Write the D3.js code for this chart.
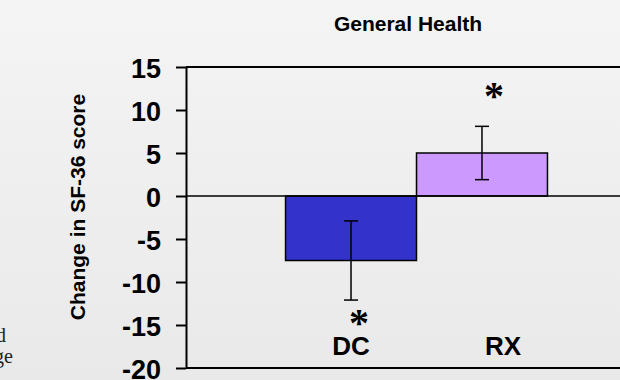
<!DOCTYPE html>
<html>
<head>
<meta charset="utf-8">
<script src="https://cdn.jsdelivr.net/npm/d3@7/dist/d3.min.js"></script>
<style>
  html, body { margin: 0; padding: 0; }
  body { width: 620px; height: 380px; overflow: hidden; }
  svg { display: block; }
</style>
</head>
<body>
<svg id="chart" width="620" height="380"></svg>
<script>
// SF-36 General Health: mean change by group, with error bars
const categories = ["DC", "RX"];
const meanChange = [-7.5, 5.0];
const errorSize = [4.6, 3.1];
const significant = [true, true];
const barColors = ["#3333cc", "#cc99ff"];
const yTicks = [15, 10, 5, 0, -5, -10, -15, -20];
const chartTitle = "General Health";
const yTitle = "Change in SF-36 score";
const sideNotes = ["d", "ge"];

const svg = d3.select("#chart");
const W = 620, H = 380;

// soft grey backdrop
const defs = svg.append("defs");
const grad = defs.append("linearGradient")
  .attr("id", "bg").attr("x1", 0).attr("y1", 0).attr("x2", 0).attr("y2", 1);
grad.append("stop").attr("offset", "0%").attr("stop-color", "#f4f4f4");
grad.append("stop").attr("offset", "100%").attr("stop-color", "#e9e9e9");
svg.append("rect").attr("width", W).attr("height", H).attr("fill", "url(#bg)");

// plot frame
const plot = { left: 186, right: 647, top: 67, bottom: 368 };

const y = d3.scaleLinear()
  .domain([d3.min(yTicks), d3.max(yTicks)])
  .range([plot.bottom, plot.top]);

const x = d3.scaleBand()
  .domain(categories)
  .range([plot.left, plot.right])
  .paddingInner(0)
  .paddingOuter(0.76);

// fragments of neighbouring slide text at the left edge
svg.append("g").selectAll("text")
  .data(sideNotes)
  .join("text")
  .attr("x", (d, i) => i === 0 ? 6 : 13)
  .attr("y", (d, i) => 342 + i * 21)
  .attr("text-anchor", "end")
  .attr("font-family", "'Liberation Serif', 'Times New Roman', serif")
  .attr("font-size", 20)
  .attr("fill", "#222")
  .text(d => d);

// bars
const bars = categories.map((c, i) => ({ cat: c, v: meanChange[i], e: errorSize[i], sig: significant[i], color: barColors[i] }));

svg.append("g").selectAll("rect")
  .data(bars)
  .join("rect")
  .attr("x", d => x(d.cat))
  .attr("width", x.bandwidth())
  .attr("y", d => y(Math.max(0, d.v)))
  .attr("height", d => Math.abs(y(d.v) - y(0)))
  .attr("fill", d => d.color)
  .attr("stroke", "#000")
  .attr("stroke-width", 1.5);

// zero line across the plot
svg.append("line")
  .attr("x1", plot.left).attr("x2", plot.right)
  .attr("y1", y(0)).attr("y2", y(0))
  .attr("stroke", "#000").attr("stroke-width", 1.5);

// top and bottom frame lines
[d3.max(yTicks), d3.min(yTicks)].forEach(v => {
  svg.append("line")
    .attr("x1", plot.left).attr("x2", plot.right)
    .attr("y1", y(v)).attr("y2", y(v))
    .attr("stroke", "#000").attr("stroke-width", 2);
});

// error bars
const cap = 7;
const eb = svg.append("g").attr("stroke", "#000").attr("stroke-width", 1.5);
bars.forEach(d => {
  const cx = x(d.cat) + x.bandwidth() / 2;
  eb.append("line").attr("x1", cx).attr("x2", cx)
    .attr("y1", y(d.v + d.e)).attr("y2", y(d.v - d.e));
  [d.v + d.e, d.v - d.e].forEach(v => {
    eb.append("line").attr("x1", cx - cap).attr("x2", cx + cap)
      .attr("y1", y(v)).attr("y2", y(v));
  });
});

// significance markers beyond the error bar end
svg.append("g").selectAll("text")
  .data(bars.filter(d => d.sig))
  .join("text")
  .attr("x", d => x(d.cat) + x.bandwidth() / 2 + (d.v < 0 ? 8 : 12))
  .attr("y", d => d.v < 0 ? y(d.v - d.e) + 36 : y(d.v + d.e) - 17)
  .attr("text-anchor", "middle")
  .attr("font-family", "'Liberation Serif', 'Times New Roman', serif")
  .attr("font-weight", "bold")
  .attr("font-size", 40)
  .attr("fill", "#000")
  .text("*");

// y axis (plain hyphen for negatives)
const yAxis = d3.axisLeft(y)
  .tickValues(yTicks)
  .tickFormat(d => String(d))
  .tickSize(10)
  .tickSizeOuter(0)
  .tickPadding(15);

const ya = svg.append("g")
  .attr("transform", `translate(${plot.left},0)`)
  .call(yAxis);
ya.select(".domain").attr("stroke-width", 2);
ya.selectAll(".tick line").attr("stroke-width", 2);
ya.selectAll(".tick text")
  .attr("font-family", "'Liberation Sans', Arial, sans-serif")
  .attr("font-weight", "bold")
  .attr("font-size", 27)
  .attr("fill", "#000")
  .attr("dy", "0.4em");

// category labels
const labelShift = [0, 21];
svg.append("g").selectAll("text")
  .data(categories)
  .join("text")
  .attr("x", (d, i) => x(d) + x.bandwidth() / 2 + labelShift[i])
  .attr("y", 355)
  .attr("text-anchor", "middle")
  .attr("font-family", "'Liberation Sans', Arial, sans-serif")
  .attr("font-weight", "bold")
  .attr("font-size", 26)
  .attr("fill", "#000")
  .text(d => d);

// chart title
svg.append("text")
  .attr("x", 408).attr("y", 30.5)
  .attr("text-anchor", "middle")
  .attr("font-family", "'Liberation Sans', Arial, sans-serif")
  .attr("font-weight", "bold")
  .attr("font-size", 21)
  .attr("fill", "#000")
  .text(chartTitle);

// y axis title
svg.append("text")
  .attr("transform", "translate(77,207) rotate(-90)")
  .attr("text-anchor", "middle")
  .attr("dy", "0.36em")
  .attr("font-family", "'Liberation Sans', Arial, sans-serif")
  .attr("font-weight", "bold")
  .attr("font-size", 21)
  .attr("fill", "#000")
  .text(yTitle);
</script>
</body>
</html>
